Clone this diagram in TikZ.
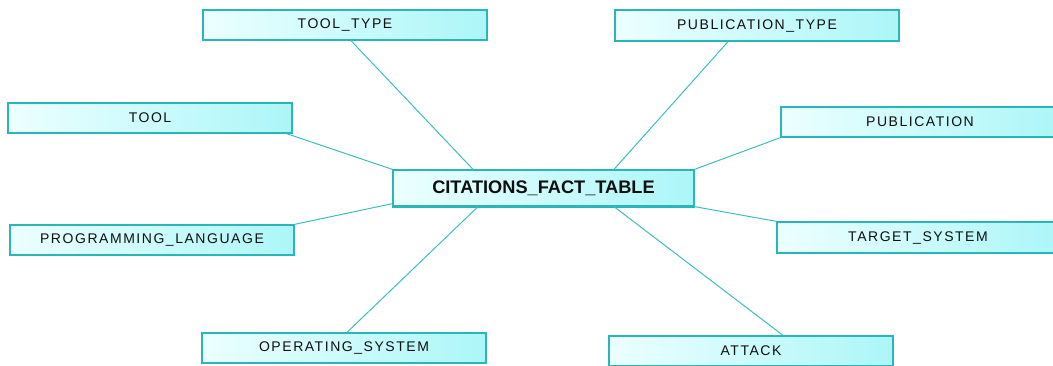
\documentclass[tikz,border=0pt]{standalone}
\usepackage{fontspec}
\setmainfont{Liberation Sans}
\newfontfamily\lab[LetterSpace=11]{Liberation Sans}
\definecolor{edge}{RGB}{60,190,190}
\definecolor{frame}{RGB}{40,182,182}
\definecolor{fillL}{RGB}{236,255,255}
\definecolor{fillR}{RGB}{172,246,248}
\definecolor{ink}{RGB}{15,15,15}
\tikzset{
  tbl/.style={draw=frame, line width=1.3pt, left color=fillL, right color=fillR,
    minimum width=284pt, minimum height=30pt, inner sep=0pt, text=ink,
    font=\lab\fontsize{14}{16}\selectfont},
  fact/.style={tbl, minimum width=301pt, minimum height=36pt,
    font=\bfseries\fontsize{18.2}{20}\selectfont},
  link/.style={draw=edge, line width=1pt}
}
\begin{document}
\begin{tikzpicture}[x=1pt,y=-1pt]
\useasboundingbox (0,0) rectangle (1053,365);
\node[tbl] (tooltype) at (345,25) {TOOL\_TYPE};
\node[tbl, minimum height=31pt] (pubtype) at (757,25.5) {PUBLICATION\_TYPE};
\node[tbl] (tool) at (150,118) {TOOL};
\node[tbl, minimum width=278pt] (pub) at (920,122) {PUBLICATION};
\node[tbl] (prog) at (152,240) {PROGRAMMING\_LANGUAGE};
\node[tbl, minimum width=282pt, minimum height=31pt] (target) at (918,237.5) {TARGET\_SYSTEM};
\node[tbl] (os) at (344,348) {OPERATING\_SYSTEM};
\node[tbl] (attack) at (751,351) {ATTACK};
\node[fact] (fact) at (543.5,188) {CITATIONS\_FACT\_TABLE};
\draw[frame, line width=1pt] ([yshift=-1.2pt]fact.south west) -- ([yshift=-1.2pt]fact.south east);
\draw[link] ([xshift=6pt]tooltype.south) -- ([xshift=-70.5pt]fact.north);
\draw[link] ([xshift=-29pt]pubtype.south) -- ([xshift=70.5pt]fact.north);
\draw[link] ([xshift=-6pt]tool.south east) -- (fact.north west);
\draw[link] (pub.south west) -- (fact.north east);
\draw[link] (prog.north east) -- ([yshift=3pt]fact.south west);
\draw[link] (target.north west) -- (fact.south east);
\draw[link] ([xshift=3pt]os.north) -- ([xshift=-65.5pt]fact.south);
\draw[link] ([xshift=32pt]attack.north) -- ([xshift=70.5pt]fact.south);
\end{tikzpicture}
\end{document}
